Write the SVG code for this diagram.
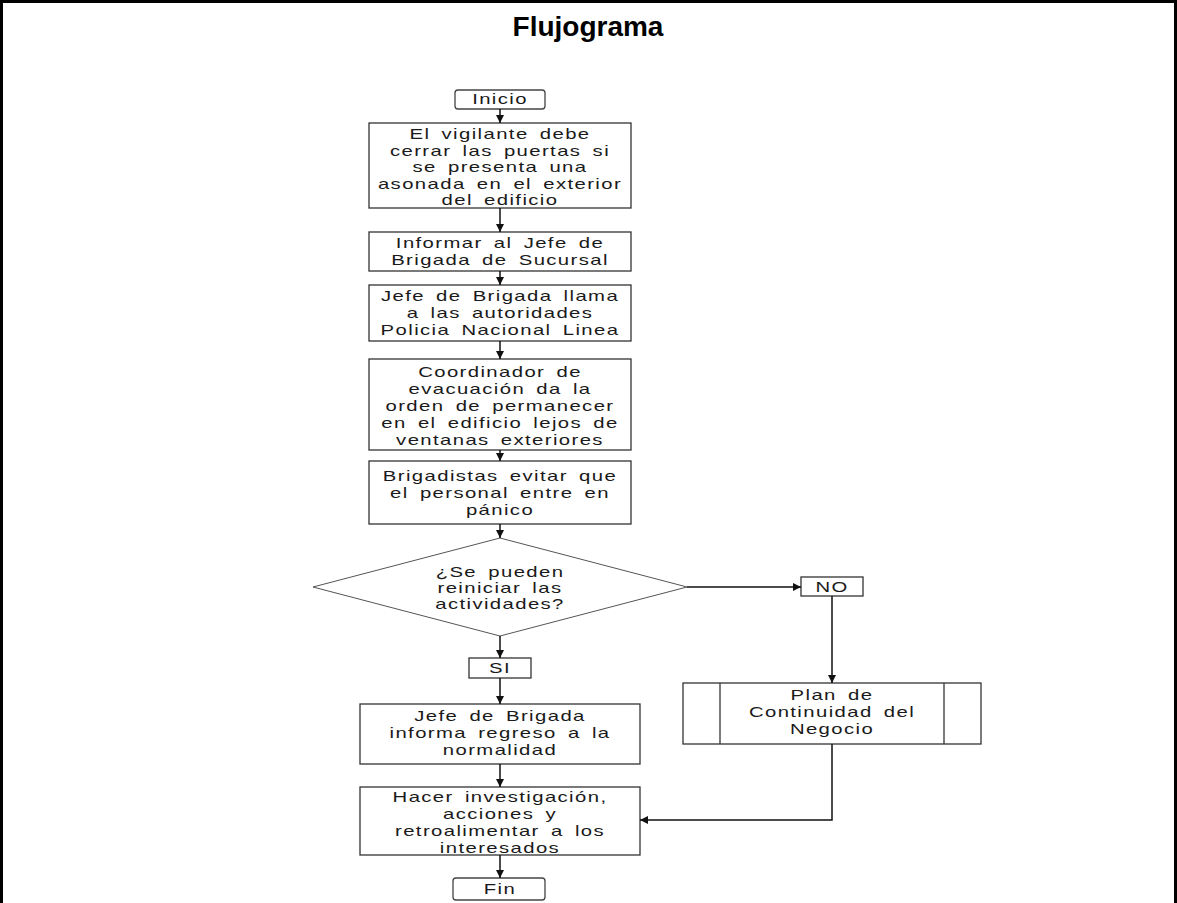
<svg xmlns="http://www.w3.org/2000/svg" width="1177" height="903" viewBox="0 0 1177 903">
  <defs>
    <marker id="arrow" viewBox="0 0 10 10" refX="10" refY="5" markerWidth="8" markerHeight="8" markerUnits="userSpaceOnUse" orient="auto">
      <path d="M0,0 L10,5 L0,10 z" fill="#111"/>
    </marker>
    <style>
      .frame { stroke: #000; stroke-width: 3; fill: none; }
      .title { font-family: "Liberation Sans", Arial, sans-serif; font-weight: bold; font-size: 28px; fill: #000; }
      .box { fill: #fff; stroke: #333; stroke-width: 1.3; }
      .term { fill: #fff; stroke: #444; stroke-width: 1.3; }
      .dec { fill: #fff; stroke: #555; stroke-width: 1; }
      .lbl { font-family: "Liberation Sans", Arial, sans-serif; font-size: 14.5px; fill: #1a1a1a; text-anchor: middle; letter-spacing: 1px; word-spacing: 3px; }
      .conn { fill: none; stroke: #111; stroke-width: 1.5; marker-end: url(#arrow); }
      .line { fill: none; stroke: #111; stroke-width: 1.5; }
      .div { stroke: #333; stroke-width: 1.3; }
    </style>
  </defs>

  <rect width="1177" height="903" fill="#fff"/>
  <!-- page frame -->
  <path class="frame" d="M1.5,903 V1.5 H1175.5 V903"/>

  <text class="title" x="588" y="36" text-anchor="middle">Flujograma</text>

  <!-- nodes -->
  <g id="inicio">
    <rect class="term" x="455" y="90" width="90" height="19" rx="3"/>
    <text class="lbl" transform="translate(500,104) scale(1.4,1)">Inicio</text>
  </g>

  <g id="cerrar-puertas">
    <rect class="box" x="369" y="123" width="262" height="85"/>
    <text class="lbl" transform="translate(500,139) scale(1.4,1)">El vigilante debe</text>
    <text class="lbl" transform="translate(500,155.5) scale(1.4,1)">cerrar las puertas si</text>
    <text class="lbl" transform="translate(500,172) scale(1.4,1)">se presenta una</text>
    <text class="lbl" transform="translate(500,188.5) scale(1.4,1)">asonada en el exterior</text>
    <text class="lbl" transform="translate(500,205) scale(1.4,1)">del edificio</text>
  </g>

  <g id="informar-jefe">
    <rect class="box" x="369" y="232" width="262" height="39"/>
    <text class="lbl" transform="translate(500,248) scale(1.4,1)">Informar al Jefe de</text>
    <text class="lbl" transform="translate(500,265) scale(1.4,1)">Brigada de Sucursal</text>
  </g>

  <g id="llamar-autoridades">
    <rect class="box" x="369" y="285" width="262" height="56"/>
    <text class="lbl" transform="translate(500,301) scale(1.4,1)">Jefe de Brigada llama</text>
    <text class="lbl" transform="translate(500,318) scale(1.4,1)">a las autoridades</text>
    <text class="lbl" transform="translate(500,335) scale(1.4,1)">Policia Nacional Linea</text>
  </g>

  <g id="orden-permanecer">
    <rect class="box" x="369" y="359" width="262" height="91"/>
    <text class="lbl" transform="translate(500,377) scale(1.4,1)">Coordinador de</text>
    <text class="lbl" transform="translate(500,394) scale(1.4,1)">evacuación da la</text>
    <text class="lbl" transform="translate(500,411) scale(1.4,1)">orden de permanecer</text>
    <text class="lbl" transform="translate(500,428) scale(1.4,1)">en el edificio lejos de</text>
    <text class="lbl" transform="translate(500,445) scale(1.4,1)">ventanas exteriores</text>
  </g>

  <g id="evitar-panico">
    <rect class="box" x="369" y="461" width="262" height="63"/>
    <text class="lbl" transform="translate(500,481) scale(1.4,1)">Brigadistas evitar que</text>
    <text class="lbl" transform="translate(500,498) scale(1.4,1)">el personal entre en</text>
    <text class="lbl" transform="translate(500,515) scale(1.4,1)">pánico</text>
  </g>

  <g id="decision">
    <polygon class="dec" points="500,538 687,587 500,636 313,587"/>
    <text class="lbl" transform="translate(500,577) scale(1.4,1)">¿Se pueden</text>
    <text class="lbl" transform="translate(500,593) scale(1.4,1)">reiniciar las</text>
    <text class="lbl" transform="translate(500,609) scale(1.4,1)">actividades?</text>
  </g>

  <g id="no">
    <rect class="box" x="801" y="577" width="62" height="19"/>
    <text class="lbl" transform="translate(832,592) scale(1.4,1)">NO</text>
  </g>

  <g id="si">
    <rect class="box" x="469" y="658" width="62" height="20"/>
    <text class="lbl" transform="translate(500,673) scale(1.4,1)">SI</text>
  </g>

  <g id="plan-continuidad">
    <rect class="box" x="683" y="683" width="298" height="61"/>
    <line class="div" x1="720" y1="683" x2="720" y2="744"/>
    <line class="div" x1="944" y1="683" x2="944" y2="744"/>
    <text class="lbl" transform="translate(832,700) scale(1.4,1)">Plan de</text>
    <text class="lbl" transform="translate(832,717) scale(1.4,1)">Continuidad del</text>
    <text class="lbl" transform="translate(832,734) scale(1.4,1)">Negocio</text>
  </g>

  <g id="regreso-normalidad">
    <rect class="box" x="360" y="704" width="280" height="60"/>
    <text class="lbl" transform="translate(500,721) scale(1.4,1)">Jefe de Brigada</text>
    <text class="lbl" transform="translate(500,738) scale(1.4,1)">informa regreso a la</text>
    <text class="lbl" transform="translate(500,755) scale(1.4,1)">normalidad</text>
  </g>

  <g id="investigacion">
    <rect class="box" x="360" y="787" width="280" height="68"/>
    <text class="lbl" transform="translate(500,802) scale(1.4,1)">Hacer investigación,</text>
    <text class="lbl" transform="translate(500,819) scale(1.4,1)">acciones y</text>
    <text class="lbl" transform="translate(500,836) scale(1.4,1)">retroalimentar a los</text>
    <text class="lbl" transform="translate(500,853) scale(1.4,1)">interesados</text>
  </g>

  <g id="fin">
    <rect class="term" x="453" y="878" width="92" height="22" rx="3"/>
    <text class="lbl" transform="translate(500,894) scale(1.4,1)">Fin</text>
  </g>

  <!-- connectors -->
  <g id="connectors">
    <path class="conn" d="M500,109 V123"/>
    <path class="conn" d="M500,208 V232"/>
    <path class="conn" d="M500,271 V285"/>
    <path class="conn" d="M500,341 V359"/>
    <path class="conn" d="M500,450 V461"/>
    <path class="conn" d="M500,524 V538"/>
    <path class="conn" d="M687,587 H801"/>
    <path class="conn" d="M832,596 V683"/>
    <path class="conn" d="M500,636 V658"/>
    <path class="conn" d="M500,678 V704"/>
    <path class="conn" d="M500,764 V787"/>
    <path class="conn" d="M832,744 V820 H640"/>
    <path class="conn" d="M500,855 V878"/>
  </g>
</svg>
